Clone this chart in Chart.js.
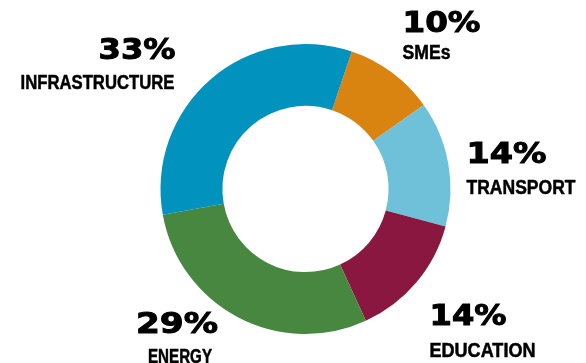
<!DOCTYPE html>
<html>
<head>
<meta charset="utf-8">
<script src="https://cdn.jsdelivr.net/npm/chart.js@4"></script>
<style>
  html, body { margin: 0; padding: 0; background: #fff; }
  #wrap { position: relative; width: 586px; height: 363px; overflow: hidden; }
  #c { position: absolute; left: 0; top: 0; }
  #lbl { position: absolute; left: 0; top: 0; pointer-events: none; }
  .pct { font-family: "DejaVu Sans", sans-serif; font-weight: bold; font-size: 29px; fill: #000; stroke: #000; stroke-width: 1px; }
  .cat { font-family: "Liberation Sans Narrow", "Liberation Sans", sans-serif; font-weight: bold; font-size: 19.5px; fill: #000; stroke: #000; stroke-width: 0.5px; }
</style>
</head>
<body>
<div id="wrap">
  <canvas id="c" width="586" height="363"></canvas>
  <svg id="lbl" width="586" height="363" xmlns="http://www.w3.org/2000/svg"></svg>
</div>
<script>
// ---- data ----
const categories = ["SMEs", "TRANSPORT", "EDUCATION", "ENERGY", "INFRASTRUCTURE"];
const values = [10, 14, 14, 29, 33];
const colors = ["#d98310", "#6fc0d9", "#89173f", "#488740", "#0192bd"];

// ---- label layout (positions only) ----
const labelLayout = [
  { anchor: "start", x: 402.5, pctY: 32, catY: 59, pctW: 78, catW: 48 },
  { anchor: "start", x: 466.5, pctY: 163, catY: 193.5, pctW: 80, catW: 109 },
  { anchor: "start", x: 429.5, pctY: 325, catY: 356.5, pctW: 77, catW: 106 },
  { anchor: "start", x: 136, pctY: 333, catY: 363, pctW: 82, catW: 64, catX: 148 },
  { anchor: "end", x: 175.5, pctY: 59, catY: 88.5, pctW: 77, catW: 154, catX: 174.5 }
];

const ctx = document.getElementById("c").getContext("2d");
new Chart(ctx, {
  type: "doughnut",
  data: {
    labels: categories,
    datasets: [{
      data: values,
      backgroundColor: colors,
      borderWidth: 0
    }]
  },
  options: {
    responsive: false,
    animation: false,
    events: [],
    rotation: 18.6,
    radius: 145,
    cutout: "57.3%",
    layout: { padding: { left: 25, right: 0, top: 15, bottom: 0 } },
    plugins: { legend: { display: false }, tooltip: { enabled: false } }
  }
});

// ---- text labels as SVG text ----
const svg = document.getElementById("lbl");
const NS = "http://www.w3.org/2000/svg";
function addText(str, x, y, anchor, cls, w) {
  const t = document.createElementNS(NS, "text");
  t.setAttribute("x", x);
  t.setAttribute("y", y);
  t.setAttribute("text-anchor", anchor);
  t.setAttribute("class", cls);
  t.setAttribute("textLength", w);
  t.setAttribute("lengthAdjust", "spacingAndGlyphs");
  t.textContent = str;
  svg.appendChild(t);
}
categories.forEach((cat, i) => {
  const L = labelLayout[i];
  addText(values[i] + "%", L.x, L.pctY, L.anchor, "pct", L.pctW);
  addText(cat, L.catX !== undefined ? L.catX : L.x, L.catY, L.anchor, "cat", L.catW);
});
</script>
</body>
</html>
